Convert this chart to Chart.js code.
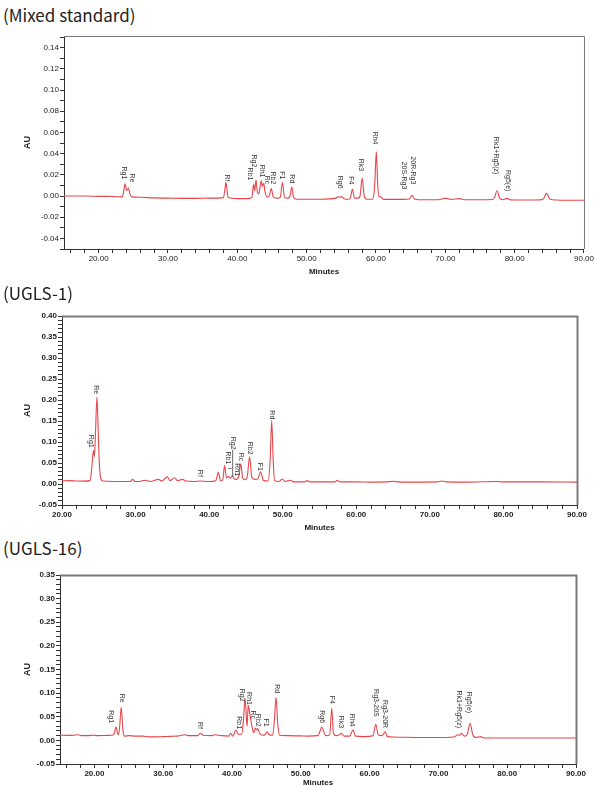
<!DOCTYPE html>
<html>
<head>
<meta charset="utf-8">
<script src="https://cdn.jsdelivr.net/npm/chart.js@4"></script>
<style>
  body { margin: 0; background: #fff; width: 595px; height: 786px; position: relative; overflow: hidden; }
  .title { position: absolute; left: 3px; font-family: "Noto Sans CJK KR", "DejaVu Sans", sans-serif; font-size: 17px; color: #222; line-height: 1; }
  .panel { position: absolute; left: 0; width: 595px; }
  canvas { display: block; }
</style>
</head>
<body>
<div class="title" style="top:6px">(Mixed standard)</div>
<div class="panel" style="top:30px;height:255px"><canvas id="chartMix"></canvas></div>
<div class="title" style="top:284px">(UGLS-1)</div>
<div class="panel" style="top:305px;height:225px"><canvas id="chartU1"></canvas></div>
<div class="title" style="top:539px">(UGLS-16)</div>
<div class="panel" style="top:565px;height:221px"><canvas id="chartU16"></canvas></div>

<script>
// ---------- data: [minutes, AU] ----------
const mixTrace = [
  [15,0.000],[18,0.000],[20,-0.0003],[22,-0.0005],[23.4,-0.0008],[23.6,0.004],[23.8,0.0116],[24.0,0.006],
  [24.1,0.0055],[24.3,0.0075],[24.5,0.002],[24.8,-0.0008],[26,-0.0012],[28,-0.0018],[30,-0.002],[32,-0.0022],
  [34,-0.0022],[36,-0.002],[38.0,-0.0015],[38.2,0.006],[38.35,0.013],[38.5,0.006],[38.7,-0.0015],[40,-0.0025],
  [41.5,-0.0025],[42.1,-0.001],[42.35,0.011],[42.5,0.005],[42.7,0.015],[42.9,0.003],[43.1,0.002],[43.45,0.0147],
  [43.6,0.009],[43.8,0.012],[44.0,0.004],[44.3,-0.001],[44.6,0.000],[44.9,0.007],[45.2,-0.001],[45.8,-0.002],
  [46.2,-0.001],[46.5,0.0128],[46.8,-0.001],[47.3,-0.002],[47.6,0.000],[47.85,0.0084],[48.1,-0.001],[48.5,-0.003],
  [50,-0.003],[52,-0.003],[54.2,-0.002],[54.5,-0.0008],[54.75,-0.0012],[55.0,-0.0006],[55.4,-0.0025],[56.1,-0.003],
  [56.3,-0.002],[56.6,0.0063],[56.9,-0.002],[57.4,-0.002],[57.7,0.000],[58.0,0.017],[58.3,0.000],[58.7,-0.003],
  [59.5,-0.003],[59.75,0.005],[59.85,0.015],[60.05,0.0417],[60.25,0.010],[60.45,-0.001],[60.7,-0.0004],[61.0,-0.003],
  [62,-0.0032],[64,-0.0032],[64.8,-0.0028],[65.2,0.0007],[65.6,-0.003],[67,-0.0035],[69,-0.0035],[70.0,-0.002],
  [70.8,-0.0032],[72,-0.0025],[73,-0.0035],[75,-0.0035],[76.8,-0.0033],[77.1,-0.0015],[77.45,0.005],[77.8,-0.0015],
  [78.3,-0.0035],[78.9,-0.0022],[79.4,-0.0036],[81,-0.0038],[83,-0.0038],[84.1,-0.003],[84.6,0.0025],[85.1,-0.003],
  [86,-0.0038],[88,-0.004],[90,-0.004]
];
const ugls1Trace = [
  [20,0.0075],[21,0.008],[22,0.007],[23,0.0068],[23.8,0.008],[24.0,0.03],[24.2,0.07],[24.3,0.08],[24.4,0.065],
  [24.55,0.12],[24.75,0.207],[24.95,0.11],[25.1,0.04],[25.3,0.012],[25.6,0.007],[27,0.006],[29.3,0.006],[29.6,0.011],
  [29.9,0.006],[30.5,0.006],[31.3,0.009],[32,0.006],[33.1,0.011],[33.6,0.007],[34.3,0.017],[34.7,0.008],[35.3,0.015],
  [35.7,0.008],[36.4,0.011],[36.8,0.007],[38,0.006],[38.7,0.007],[40,0.006],[40.9,0.008],[41.25,0.028],[41.55,0.008],
  [41.85,0.010],[42.1,0.044],[42.35,0.014],[42.6,0.018],[42.9,0.014],[43.15,0.020],[43.4,0.012],[43.7,0.011],
  [44.05,0.020],[44.3,0.048],[44.55,0.015],[44.9,0.010],[45.2,0.020],[45.5,0.065],[45.8,0.016],[46.2,0.011],
  [46.6,0.012],[47.0,0.029],[47.35,0.009],[48.0,0.007],[48.3,0.06],[48.5,0.151],[48.7,0.06],[48.9,0.008],
  [49.5,0.006],[49.95,0.012],[50.3,0.006],[51,0.009],[51.5,0.005],[53,0.005],[53.3,0.008],[53.7,0.005],[55,0.005],
  [57.1,0.005],[57.4,0.009],[57.8,0.005],[60,0.005],[62,0.0045],[64,0.005],[65,0.0065],[65.7,0.005],[67,0.0045],
  [71,0.005],[71.6,0.007],[72.3,0.005],[75,0.0045],[79,0.006],[80,0.005],[85,0.005],[90,0.0045]
];
const ugls16Trace = [
  [15,0.011],[16,0.0105],[17,0.011],[17.6,0.012],[18.2,0.010],[19,0.010],[19.8,0.011],[20.5,0.010],[22.0,0.0105],
  [22.8,0.012],[23.15,0.028],[23.45,0.012],[23.65,0.025],[23.9,0.070],[24.15,0.020],[24.4,0.009],[25,0.010],
  [26,0.009],[27,0.009],[28,0.0075],[29,0.0075],[30,0.008],[31,0.0085],[32,0.009],[33.2,0.012],[33.6,0.010],
  [35.0,0.010],[35.4,0.015],[35.8,0.011],[37,0.010],[37.5,0.012],[38.5,0.010],[39.5,0.009],[39.8,0.015],[40.1,0.009],
  [40.6,0.022],[40.9,0.013],[41.4,0.013],[41.65,0.040],[41.9,0.089],[42.1,0.045],[42.2,0.030],[42.35,0.074],
  [42.6,0.055],[42.9,0.030],[43.15,0.016],[43.4,0.026],[43.55,0.022],[43.75,0.025],[44.0,0.015],[44.5,0.011],
  [44.8,0.012],[45.1,0.018],[45.4,0.012],[45.9,0.011],[46.15,0.040],[46.4,0.091],[46.65,0.035],[46.9,0.011],
  [48,0.010],[50,0.0095],[51,0.009],[52.5,0.010],[52.8,0.020],[53.05,0.028],[53.3,0.020],[53.6,0.010],[54.2,0.012],
  [54.5,0.068],[54.75,0.015],[55.1,0.010],[55.6,0.012],[55.9,0.015],[56.3,0.009],[57.1,0.009],[57.6,0.022],
  [57.95,0.009],[59,0.008],[60.5,0.010],[60.9,0.034],[61.25,0.012],[61.8,0.010],[62.25,0.018],[62.6,0.008],
  [63.5,0.007],[65,0.0065],[68,0.006],[71,0.006],[72.3,0.007],[72.8,0.012],[73.1,0.011],[73.35,0.015],[73.8,0.009],
  [74.2,0.013],[74.6,0.036],[75.0,0.012],[75.5,0.006],[76.1,0.008],[76.6,0.005],[78,0.005],[80,0.005],[85,0.005],
  [90,0.005]
];

// peak labels: [name, minutes, AU where the text ends]
const mixLabels = [
  ["Rg1",23.68,0.0157],["Re",24.79,0.0129],["Rf",38.5,0.0138],["Rg2",42.4,0.027],["Rb1",41.8,0.0147],
  ["Rh1",43.6,0.0175],["Rc",44.3,0.011],["Rb2",45.1,0.011],["F1",46.5,0.0157],["Rd",47.9,0.012],
  ["Rg6",54.8,0.007],["F4",56.4,0.011],["Rk3",57.8,0.0235],["Rh4",59.8,0.0486],["20S-Rg3",64.1,0.0063],
  ["20R-Rg3",65.4,0.011],["Rk1+Rg5(z)",77.3,0.0204],["Rg5(e)",79.0,0.0044]
];
const ugls1Labels = [
  ["Rg1",23.94,0.0865],["Re",24.66,0.214],["Rf",38.7,0.017],["Rg2",43.2,0.082],["Rb1",42.5,0.047],
  ["Rh1",43.8,0.019],["Rc",44.36,0.054],["Rb2",45.5,0.070],["F1",46.85,0.031],["Rd",48.5,0.154]
];
const ugls1Leaders = [[43.2,0.082,43.2,0.017],[42.6,0.037,43.05,0.037]];
const ugls16Labels = [
  ["Rg1",22.4,0.0365],["Re",23.98,0.080],["Rf",35.4,0.024],["Rb1",40.96,0.024],["Rg2",41.5,0.082],
  ["Rh1",42.45,0.075],["Rc",43.0,0.045],["Rb2",43.8,0.029],["F1",45.0,0.029],["Rd",46.5,0.100],
  ["Rg6",53.1,0.0365],["F4",54.55,0.077],["Rk3",55.9,0.026],["Rh4",57.5,0.029],["Rg3-20S",60.9,0.050],
  ["Rg3-20R",62.3,0.026],["Rk1+Rg5(z)",73.0,0.026],["Rg5(e)",74.4,0.0577]
];

// axes
const xMajorTicks = [20,30,40,50,60,70,80,90];
const mixYTicks = [-0.04,-0.02,0.00,0.02,0.04,0.06,0.08,0.10,0.12,0.14];
const ugYTicks = [-0.05,0.00,0.05,0.10,0.15,0.20,0.25,0.30,0.35,0.40];

function withMinors(majors, step, min, max) {
  let out = []
  let n = Math.round((max - min) / step)
  for (let i = 0; i <= n; i++) {
    let v = +(min + i * step).toFixed(4)
    let isMajor = majors.some(m => Math.abs(m - v) < 1e-6)
    out.push({ value: v, major: isMajor })
  }
  return out
}

const framePlugin = {
  id: 'frame',
  afterDraw(chart, args, opts) {
    const ctx = chart.ctx
    const a = chart.chartArea
    const xs = chart.scales.x, ys = chart.scales.y
    ctx.save()
    // box
    ctx.strokeStyle = '#7a7a7a'
    ctx.lineWidth = opts.topWidth || 1
    ctx.beginPath()
    ctx.moveTo(a.left, a.top + 0.5); ctx.lineTo(a.right + 0.5, a.top + 0.5); ctx.lineTo(a.right + 0.5, a.bottom)
    ctx.stroke()
    // peak labels
    ctx.fillStyle = '#333'
    ctx.font = '7px "Liberation Sans", Arial, sans-serif'
    ctx.textAlign = 'right'
    ctx.textBaseline = 'middle'
    opts.labels.forEach(l => {
      ctx.save()
      ctx.translate(xs.getPixelForValue(l[1]), ys.getPixelForValue(l[2]))
      ctx.rotate(Math.PI / 2)
      ctx.fillText(l[0], 0, 0)
      ctx.restore()
    })
    ctx.strokeStyle = '#444'
    ctx.lineWidth = 0.8;
    (opts.leaders || []).forEach(s => {
      ctx.beginPath()
      ctx.moveTo(xs.getPixelForValue(s[0]), ys.getPixelForValue(s[1]))
      ctx.lineTo(xs.getPixelForValue(s[2]), ys.getPixelForValue(s[3]))
      ctx.stroke()
    })
    // axis titles
    ctx.fillStyle = '#222'
    ctx.font = 'bold 8px "Liberation Sans", Arial, sans-serif'
    ctx.textAlign = 'center'
    ctx.fillText('Minutes', (a.left + a.right) / 2, a.bottom + opts.minutesGap)
    ctx.save()
    ctx.translate(opts.auX, (a.top + a.bottom) / 2)
    ctx.rotate(-Math.PI / 2)
    ctx.font = 'bold 9px "Liberation Sans", Arial, sans-serif'
    ctx.fillText('AU', 0, 0)
    ctx.restore()
    ctx.restore()
  }
}

function crearCromatograma(id, cfg) {
  const ctx = document.getElementById(id).getContext('2d')
  return new Chart(ctx, {
    type: 'line',
    data: {
      datasets: [{
        data: cfg.trace.map(p => ({ x: p[0], y: p[1] })),
        borderColor: '#e8454b',
        borderWidth: 1.1,
        pointRadius: 0,
        cubicInterpolationMode: 'monotone',
        fill: false
      }]
    },
    options: {
      responsive: true,
      maintainAspectRatio: false,
      animation: false,
      events: [],
      layout: { padding: { left: 0, right: cfg.padRight, top: cfg.padTop, bottom: 0 } },
      plugins: {
        legend: { display: false },
        tooltip: { enabled: false },
        frame: { labels: cfg.labels, leaders: cfg.leaders, minutesGap: cfg.minutesGap, auX: 28, topWidth: cfg.topWidth }
      },
      scales: {
        x: {
          type: 'linear',
          min: cfg.xMin, max: 90,
          afterBuildTicks: s => { s.ticks = withMinors(xMajorTicks, 2, cfg.xMin + (cfg.xMin % 2), 90) },
          afterFit: s => { s.height = cfg.xHeight },
          grid: { drawOnChartArea: false, drawTicks: true, tickLength: 4, color: '#333', tickColor: '#333' },
          border: { color: '#333', width: 1 },
          ticks: {
            autoSkip: false, maxRotation: 0, padding: 1, color: '#222',
            font: { family: '"Liberation Sans", Arial, sans-serif', size: 8, weight: cfg.tickWeight },
            callback: (v) => xMajorTicks.includes(v) ? v.toFixed(2) : ''
          }
        },
        y: {
          min: cfg.yMin, max: cfg.yMax,
          afterBuildTicks: s => { s.ticks = withMinors(cfg.yTicks, 0.01, cfg.yMin, cfg.yMax) },
          afterFit: s => { s.width = cfg.yWidth },
          grid: { drawOnChartArea: false, drawTicks: true, tickLength: 4, color: '#333', tickColor: '#333' },
          border: { color: '#333', width: 1 },
          ticks: {
            autoSkip: false, padding: 1, color: '#222',
            font: { family: '"Liberation Sans", Arial, sans-serif', size: 8, weight: cfg.tickWeight },
            callback: (v) => cfg.yTicks.some(m => Math.abs(m - v) < 1e-6) ? v.toFixed(2) : ''
          }
        }
      }
    },
    plugins: [framePlugin]
  })
}

crearCromatograma('chartMix', {
  trace: mixTrace, labels: mixLabels, yTicks: mixYTicks,
  xMin: 15, yMin: -0.05, yMax: 0.151,
  padTop: 6, padRight: 10, yWidth: 64, xHeight: 36, minutesGap: 23, tickWeight: 'normal', topWidth: 1
})
crearCromatograma('chartU1', {
  trace: ugls1Trace, labels: ugls1Labels, leaders: ugls1Leaders, yTicks: ugYTicks,
  xMin: 20, yMin: -0.05, yMax: 0.40,
  padTop: 11, padRight: 18, yWidth: 62, xHeight: 25, minutesGap: 23, tickWeight: 'bold', topWidth: 2
})
crearCromatograma('chartU16', {
  trace: ugls16Trace, labels: ugls16Labels, yTicks: ugYTicks.slice(0, 9),
  xMin: 15, yMin: -0.05, yMax: 0.35,
  padTop: 10, padRight: 19, yWidth: 60, xHeight: 22, minutesGap: 19, tickWeight: 'bold', topWidth: 2
})
</script>
</body>
</html>
